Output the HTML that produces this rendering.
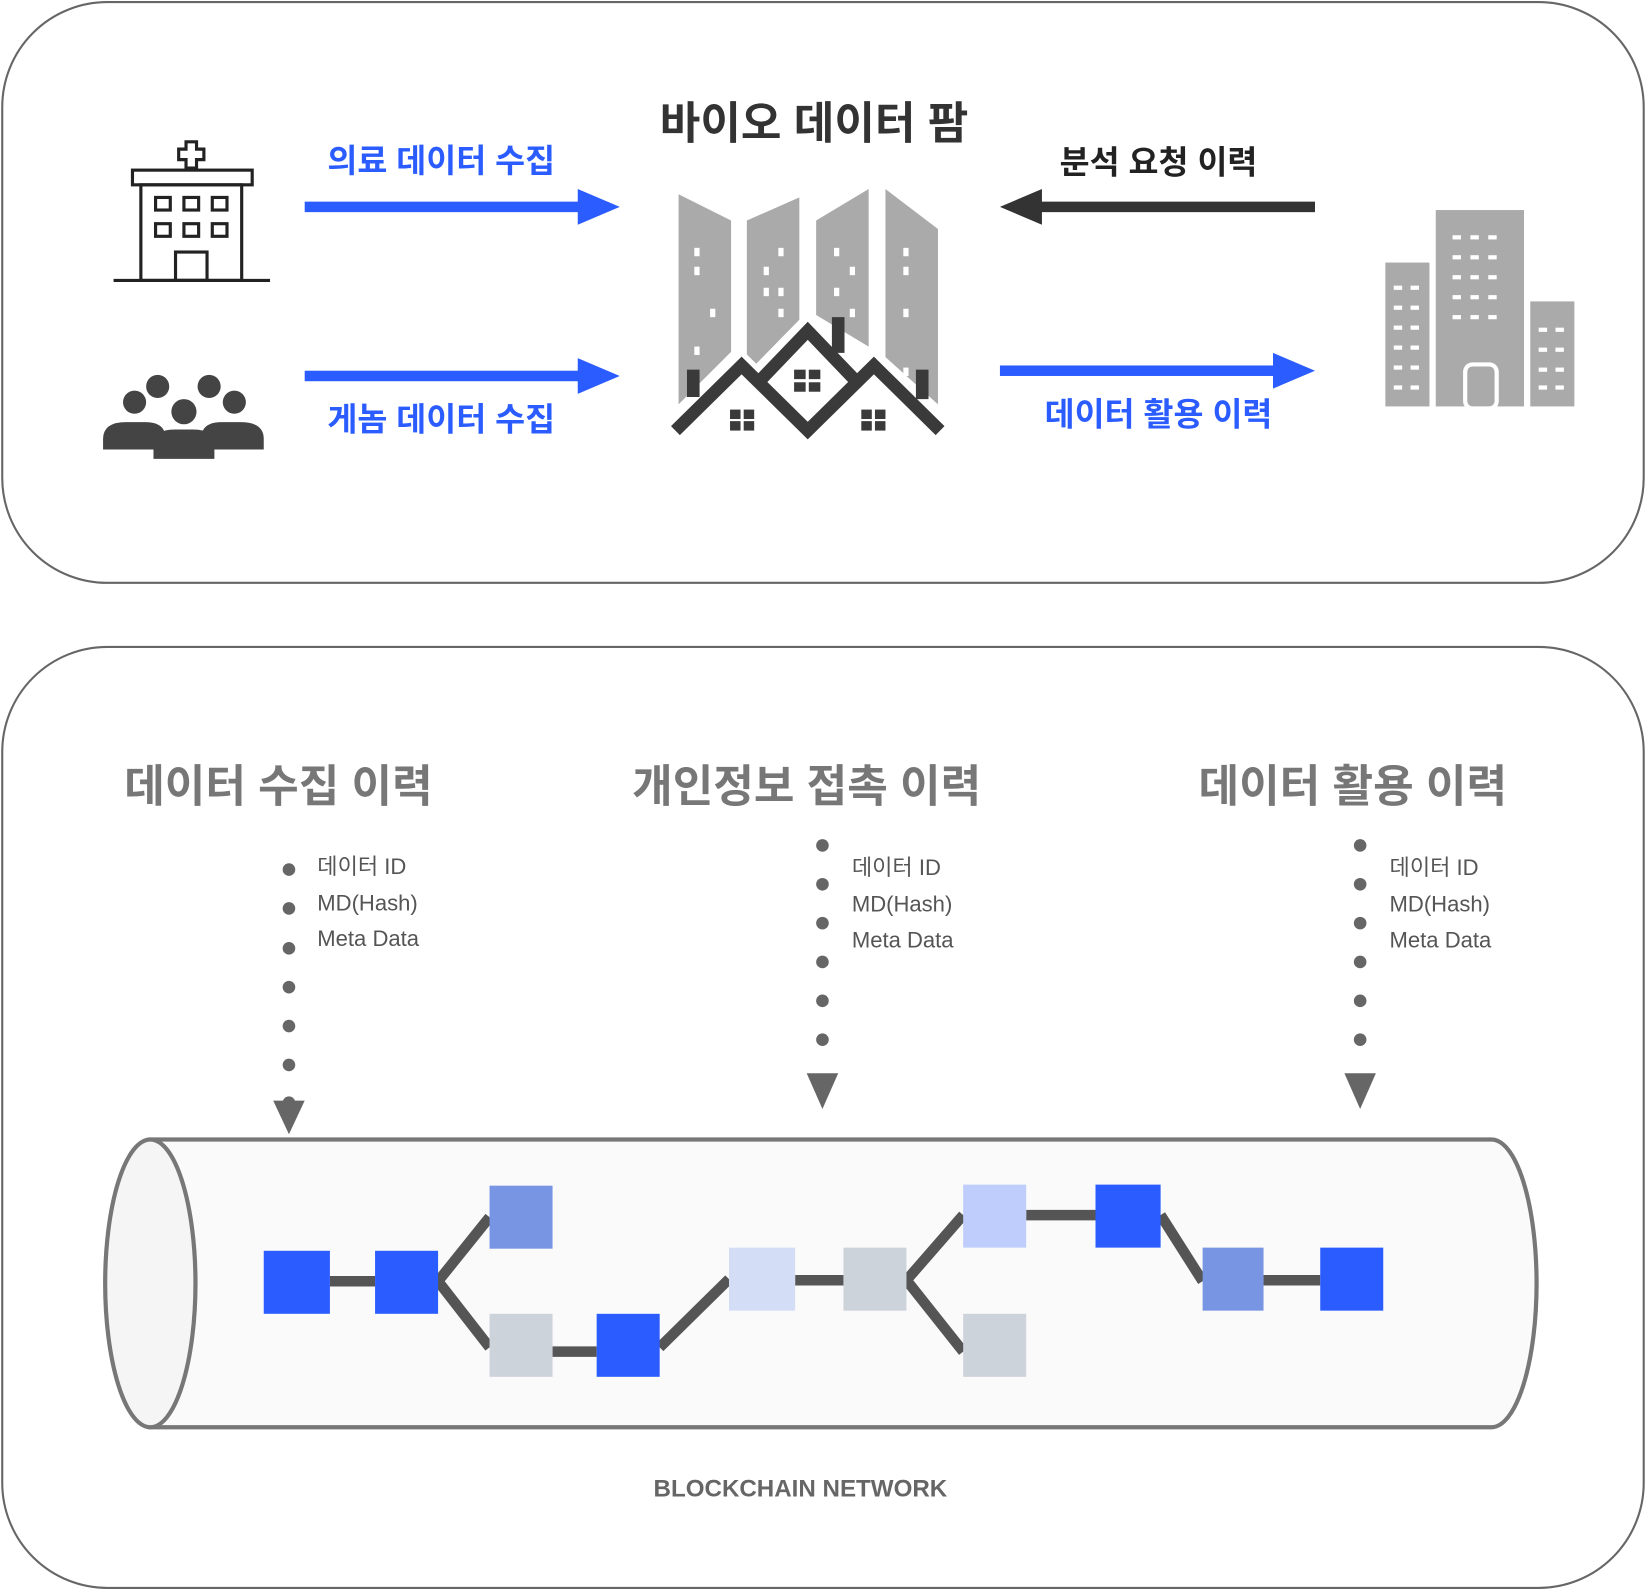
<!DOCTYPE html>
<html><head><meta charset="utf-8"><style>html,body{margin:0;padding:0;background:#fff}svg{display:block}text{font-family:"Liberation Sans","Noto Sans CJK KR",sans-serif}</style></head><body>
<svg width="1647" height="1590" viewBox="0 0 1568 1514" xmlns="http://www.w3.org/2000/svg">
<rect x="2" y="2" width="1563" height="553" rx="100" fill="#fff" stroke="#666" stroke-width="2"/>
<rect x="2" y="616" width="1563" height="896" rx="100" fill="#fff" stroke="#666" stroke-width="2"/>
<g fill="none" stroke="#222" stroke-width="3">
<rect x="126" y="162" width="114" height="14"/>
<rect x="134" y="176" width="96" height="91"/>
<line x1="108" y1="267" x2="257" y2="267"/>
<rect x="167" y="240" width="30" height="27"/>
<rect x="148" y="188" width="14" height="12"/><rect x="175" y="188" width="14" height="12"/><rect x="202" y="188" width="14" height="12"/>
<rect x="148" y="213" width="14" height="12"/><rect x="175" y="213" width="14" height="12"/><rect x="202" y="213" width="14" height="12"/>
<path d="M177 135h10v7h7v10h-7v8h-10v-8h-7v-10h7z"/>
</g>
<g fill="#444">
<circle cx="128" cy="383" r="11"/><circle cx="150" cy="368" r="11"/><circle cx="199" cy="368" r="11"/><circle cx="223" cy="383" r="11"/><circle cx="175" cy="392" r="12"/>
<path d="M98 428v-10q0-16 22-16h18q14 0 18 8v18z"/>
<path d="M251 428v-10q0-16-22-16h-18q-14 0-18 8v18z"/>
<path d="M146 437v-12q0-16 20-16h18q20 0 20 16v12z"/>
</g>
<g fill="#2a5cff">
<rect x="290" y="192" width="262" height="10"/><polygon points="550,180 590,197 550,214"/>
<rect x="290" y="353" width="262" height="10"/><polygon points="550,341 590,358 550,375"/>
<rect x="952" y="348" width="262" height="10"/><polygon points="1212,336 1252,353 1212,370"/>
</g>
<rect x="988" y="192" width="264" height="10" fill="#333"/><polygon points="992,180 952,197 992,214" fill="#333"/>
<g font-weight="bold" font-size="31" text-anchor="middle">
<text x="420" y="164" fill="#2a5cff">의료 데이터 수집</text>
<text x="420" y="410" fill="#2a5cff">게놈 데이터 수집</text>
<text x="1103" y="165" fill="#222">분석 요청 이력</text>
<text x="1103" y="405" fill="#2a5cff">데이터 활용 이력</text>
<text x="775" y="132" fill="#333" font-size="42">바이오 데이터 팜</text>
</g>
<g fill="#aaa">
<polygon points="646,185 696,210 696,335 646,385"/>
<polygon points="711,210 761,188 761,310 711,355"/>
<polygon points="777,210 827,180 827,330 777,300"/>
<polygon points="843,180 893,218 893,385 843,340"/>
</g>
<g fill="#fff">
<rect x="661" y="236" width="5" height="8"/><rect x="661" y="254" width="5" height="8"/><rect x="676" y="294" width="5" height="8"/><rect x="661" y="330" width="5" height="8"/>
<rect x="741" y="236" width="5" height="8"/><rect x="727" y="254" width="5" height="8"/><rect x="741" y="274" width="5" height="8"/><rect x="727" y="274" width="5" height="8"/><rect x="741" y="294" width="5" height="8"/>
<rect x="794" y="236" width="5" height="8"/><rect x="809" y="254" width="5" height="8"/><rect x="794" y="274" width="5" height="8"/><rect x="809" y="294" width="5" height="8"/>
<rect x="860" y="236" width="5" height="8"/><rect x="860" y="254" width="5" height="8"/><rect x="860" y="294" width="5" height="8"/><rect x="860" y="350" width="5" height="8"/>
</g>
<g fill="none" stroke="#fff" stroke-width="22" stroke-linejoin="miter">
<polyline points="643,410 706,348 769,410 832,348 895,410"/>
<polyline points="720,362 769,312 818,362"/>
</g>
<g fill="none" stroke="#3a3a3a" stroke-width="12">
<polyline points="643,410 706,348 769,410 832,348 895,410"/>
<polyline points="722,364 769,315 816,364"/>
<line x1="660" y1="378" x2="660" y2="352"/><line x1="798" y1="336" x2="798" y2="302"/><line x1="878" y1="380" x2="878" y2="352"/>
</g>
<g fill="#3a3a3a">
<rect x="756" y="352" width="11" height="9"/><rect x="770" y="352" width="11" height="9"/><rect x="756" y="364" width="11" height="9"/><rect x="770" y="364" width="11" height="9"/>
<rect x="695" y="390" width="10" height="9"/><rect x="708" y="390" width="10" height="9"/><rect x="695" y="401" width="10" height="9"/><rect x="708" y="401" width="10" height="9"/>
<rect x="820" y="390" width="10" height="9"/><rect x="833" y="390" width="10" height="9"/><rect x="820" y="401" width="10" height="9"/><rect x="833" y="401" width="10" height="9"/>
</g>
<g fill="#aaa">
<rect x="1319" y="250" width="42" height="137"/><rect x="1367" y="200" width="84" height="187"/><rect x="1457" y="287" width="42" height="100"/>
</g>
<rect x="1395" y="347" width="30" height="42" rx="7" fill="#aaa" stroke="#fff" stroke-width="4"/>
<g fill="#fff">
<g id="w"><rect x="1327" y="272" width="8" height="4"/><rect x="1343" y="272" width="8" height="4"/></g>
<use href="#w" y="19"/><use href="#w" y="38"/><use href="#w" y="57"/><use href="#w" y="76"/><use href="#w" y="95"/>
<g id="w2"><rect x="1383" y="224" width="8" height="4"/><rect x="1400" y="224" width="8" height="4"/><rect x="1417" y="224" width="8" height="4"/></g>
<use href="#w2" y="19"/><use href="#w2" y="38"/><use href="#w2" y="57"/><use href="#w2" y="76"/>
<use href="#w" x="138" y="40"/><use href="#w" x="138" y="59"/><use href="#w" x="138" y="78"/><use href="#w" x="138" y="95"/>
</g>
<g font-weight="bold" font-size="42" fill="#777" text-anchor="middle">
<text x="265" y="763">데이터 수집 이력</text>
<text x="768" y="763">개인정보 접촉 이력</text>
<text x="1288" y="763">데이터 활용 이력</text>
</g>
<g font-size="21" fill="#555">
<text x="302" y="832">데이터 ID</text><text x="302" y="867">MD(Hash)</text><text x="302" y="901">Meta Data</text>
<text x="811" y="833">데이터 ID</text><text x="811" y="868">MD(Hash)</text><text x="811" y="902">Meta Data</text>
<text x="1323" y="833">데이터 ID</text><text x="1323" y="868">MD(Hash)</text><text x="1323" y="902">Meta Data</text>
</g>
<g fill="#666">
<circle cx="275" cy="828" r="6"/><circle cx="275" cy="865" r="6"/><circle cx="275" cy="903" r="6"/><circle cx="275" cy="940" r="6"/><circle cx="275" cy="977" r="6"/><circle cx="275" cy="1014" r="6"/><circle cx="275" cy="1050" r="6"/>
<polygon points="260,1048 290,1048 275,1080"/>
<circle cx="783" cy="805" r="6"/><circle cx="783" cy="842" r="6"/><circle cx="783" cy="879" r="6"/><circle cx="783" cy="916" r="6"/><circle cx="783" cy="953" r="6"/><circle cx="783" cy="990" r="6"/>
<polygon points="768,1022 798,1022 783,1056"/>
<circle cx="1295" cy="805" r="6"/><circle cx="1295" cy="842" r="6"/><circle cx="1295" cy="879" r="6"/><circle cx="1295" cy="916" r="6"/><circle cx="1295" cy="953" r="6"/><circle cx="1295" cy="990" r="6"/>
<polygon points="1280,1022 1310,1022 1295,1056"/>
</g>
<path d="M143 1085 H1420 A43 137 0 0 1 1420 1359 H143 Z" fill="#fafafa" stroke="#777" stroke-width="4"/>
<ellipse cx="143" cy="1222" rx="43" ry="137" fill="#f5f5f5" stroke="#777" stroke-width="4"/>
<g stroke="#555" stroke-width="10" fill="none">
<line x1="314" y1="1220" x2="357" y2="1220"/>
<polyline points="466,1159 417,1220 466,1283"/>
<line x1="526" y1="1287" x2="568" y2="1287"/>
<line x1="628" y1="1283" x2="694" y2="1218"/>
<line x1="757" y1="1219" x2="803" y2="1219"/>
<polyline points="917,1157 863,1219 917,1287"/>
<line x1="977" y1="1157" x2="1043" y2="1157"/>
<line x1="1105" y1="1157" x2="1145" y2="1220"/>
<line x1="1203" y1="1219" x2="1257" y2="1219"/>
</g>
<rect x="251" y="1191" width="63" height="60" fill="#2a5cff"/>
<rect x="357" y="1191" width="60" height="60" fill="#2a5cff"/>
<rect x="466" y="1129" width="60" height="60" fill="#7895e3"/>
<rect x="466" y="1251" width="60" height="60" fill="#cdd3db"/>
<rect x="568" y="1251" width="60" height="60" fill="#2a5cff"/>
<rect x="694" y="1188" width="63" height="60" fill="#d3ddf5"/>
<rect x="803" y="1188" width="60" height="60" fill="#cdd3db"/>
<rect x="917" y="1128" width="60" height="60" fill="#bfcdfd"/>
<rect x="917" y="1251" width="60" height="60" fill="#cdd3db"/>
<rect x="1043" y="1128" width="62" height="60" fill="#2a5cff"/>
<rect x="1145" y="1188" width="58" height="60" fill="#7895e3"/>
<rect x="1257" y="1188" width="60" height="60" fill="#2a5cff"/>
<text x="762" y="1425" text-anchor="middle" font-weight="bold" font-size="23" fill="#666">BLOCKCHAIN NETWORK</text>
</svg>
</body></html>
